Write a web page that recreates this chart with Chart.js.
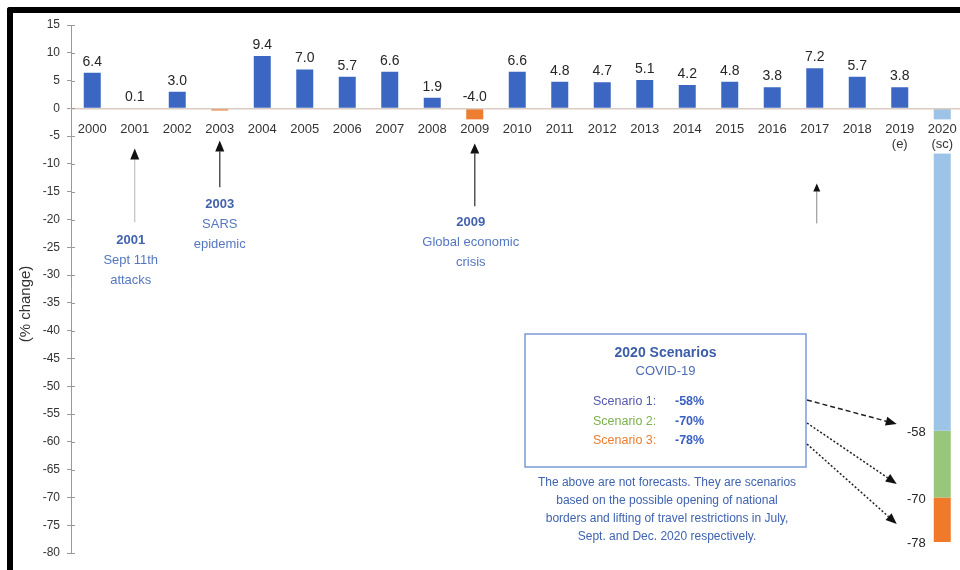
<!DOCTYPE html>
<html>
<head>
<meta charset="utf-8">
<title>International tourist arrivals</title>
<script src="https://cdn.jsdelivr.net/npm/chart.js@4.4.1/dist/chart.umd.min.js"></script>
<style>
  html, body { margin: 0; padding: 0; background: #fff; overflow: hidden; }
  #wrap { position: relative; width: 960px; height: 570px; overflow: hidden; }
  #plot { position: absolute; left: 0; top: 0; width: 970px; height: 570px; }
  #frame {
    position: absolute; left: 7px; top: 7px; width: 1000px; height: 600px;
    border-left: 6px solid #000; border-top: 6px solid #000;
    border-top-left-radius: 3px; pointer-events: none;
  }
</style>
</head>
<body>
<div id="wrap">
  <div id="plot"><canvas id="arrivalsChart"></canvas></div>
  <div id="frame"></div>
</div>
<script>
// annual % change, 2019 estimated, 2020 scenarios
const years = ['2000', '2001', '2002', '2003', '2004', '2005', '2006', '2007', '2008', '2009',
               '2010', '2011', '2012', '2013', '2014', '2015', '2016', '2017', '2018', '2019', '2020'];
const yearNotes = { '2019': '(e)', '2020': '(sc)' };
const growth = [6.4, 0.1, 3.0, -0.4, 9.4, 7.0, 5.7, 6.6, 1.9, -4.0,
                6.6, 4.8, 4.7, 5.1, 4.2, 4.8, 3.8, 7.2, 5.7, 3.8, null];
const crisisYears = ['2003', '2009'];
const unlabeledYears = ['2003'];
const scenarioYear = '2020';
const scenarioNames = ['Scenario 1', 'Scenario 2', 'Scenario 3'];
const scenarioValues = [-58, -70, -78];
const events = [
  { year: '2001', lines: ['Sept 11th', 'attacks'] },
  { year: '2003', lines: ['SARS', 'epidemic'] },
  { year: '2009', lines: ['Global economic', 'crisis'] },
  { year: '2017', lines: [] }
];
const noteLines = [
  'The above are not forecasts. They are scenarios',
  'based on the possible opening of national',
  'borders and lifting of travel restrictions in July,',
  'Sept. and Dec. 2020 respectively.'
];

const BLUE = '#3b67c2';
const ORANGE = '#ed7d31';
const scenarioColors = ['#9dc3e6', '#98c67a', '#f07a2a'];
const scenarioTextColors = ['#5458ae', '#7bb04a', '#ec7c30'];
const FONT = '"Liberation Sans", Arial, sans-serif';
const TICK_SIZE = 13;
const TICK_PAD = 13;

Chart.defaults.font.family = FONT;

const tickLabels = years.map(y => yearNotes[y] ? [y, yearNotes[y]] : y);
const scenarioIndex = years.indexOf(scenarioYear);
// year labels that sit on top of a bar get a white patch behind them
const maskedIdx = [years.indexOf('2009'), scenarioIndex];

// each scenario is a floating segment from the previous scenario down to its own value
const scenarioSets = scenarioValues.map((v, i) => ({
  label: scenarioNames[i],
  data: years.map((y, k) => k === scenarioIndex ? [i === 0 ? 0 : scenarioValues[i - 1], v] : null),
  backgroundColor: scenarioColors[i],
  barPercentage: 0.4,
  categoryPercentage: 1,
  grouped: false
}));

// arrows and callout text (y positions in axis units)
const callouts = {
  '2001': { tip: -7.2, tail: -20.5, text: -23.7, dx: -4, color: '#b5b5b5', width: 1, head: 11, half: 4.5 },
  '2003': { tip: -5.8, tail: -14.2, text: -17.3, dx: 0, color: '#555', width: 1.5, head: 11, half: 4.5 },
  '2009': { tip: -6.3, tail: -17.6, text: -20.5, dx: -4, color: '#555', width: 1.5, head: 10, half: 4.5 },
  '2017': { tip: -13.5, tail: -20.7, text: 0, dx: 2, color: '#888', width: 1, head: 8, half: 3.5 }
};

function arrow(ctx, x1, y1, x2, y2, o) {
  const ang = Math.atan2(y2 - y1, x2 - x1);
  const bx = x2 - o.head * Math.cos(ang), by = y2 - o.head * Math.sin(ang);
  ctx.save();
  ctx.strokeStyle = o.color;
  ctx.lineWidth = o.width;
  ctx.setLineDash(o.dash || []);
  ctx.beginPath();
  ctx.moveTo(x1, y1);
  ctx.lineTo(bx, by);
  ctx.stroke();
  ctx.setLineDash([]);
  ctx.fillStyle = '#111';
  ctx.beginPath();
  ctx.moveTo(x2, y2);
  ctx.lineTo(bx + o.half * Math.sin(ang), by - o.half * Math.cos(ang));
  ctx.lineTo(bx - o.half * Math.sin(ang), by + o.half * Math.cos(ang));
  ctx.closePath();
  ctx.fill();
  ctx.restore();
}

// white patches drawn after the bars but before the (z:1) tick labels
const labelMask = {
  id: 'labelMask',
  afterDatasetsDraw(chart) {
    const { ctx, scales: { x, y } } = chart;
    const top = y.getPixelForValue(0) + TICK_PAD - 2;
    ctx.save();
    ctx.font = TICK_SIZE + 'px ' + FONT;
    ctx.fillStyle = '#fff';
    maskedIdx.forEach(i => {
      const lines = [].concat(tickLabels[i]);
      const w = Math.max(...lines.map(l => ctx.measureText(l).width)) + 4;
      const h = lines.length * TICK_SIZE * 1.2 + 3;
      ctx.fillRect(x.getPixelForValue(i) - w / 2, top, w, h);
    });
    ctx.restore();
  }
};

const overlay = {
  id: 'overlay',
  afterDraw(chart) {
    const { ctx, scales: { x, y } } = chart;
    ctx.save();

    // inner half of the y tick marks
    ctx.strokeStyle = '#999';
    ctx.lineWidth = 1;
    y.ticks.forEach(t => {
      const py = Math.round(y.getPixelForValue(t.value)) + 0.5;
      ctx.beginPath();
      ctx.moveTo(x.left, py);
      ctx.lineTo(x.left + 4, py);
      ctx.stroke();
    });

    // y axis title
    ctx.save();
    ctx.translate(26, 304);
    ctx.rotate(-Math.PI / 2);
    ctx.font = '15px ' + FONT;
    ctx.fillStyle = '#333';
    ctx.textAlign = 'center';
    ctx.textBaseline = 'middle';
    ctx.fillText('(% change)', 0, 0);
    ctx.restore();

    // value labels above the bars
    ctx.font = '14px ' + FONT;
    ctx.fillStyle = '#262626';
    ctx.textAlign = 'center';
    ctx.textBaseline = 'bottom';
    growth.forEach((v, i) => {
      if (v === null || unlabeledYears.includes(years[i])) return;
      ctx.fillText(v.toFixed(1), x.getPixelForValue(i), y.getPixelForValue(Math.max(v, 0)) - 4);
    });

    // scenario values beside the 2020 bar
    const bar = chart.getDatasetMeta(1).data[scenarioIndex];
    ctx.font = '13px ' + FONT;
    ctx.textAlign = 'right';
    ctx.textBaseline = 'middle';
    scenarioValues.forEach(v => {
      ctx.fillText(String(v), bar.x - bar.width / 2 - 8, y.getPixelForValue(v) + 2);
    });

    // event arrows and captions
    events.forEach(ev => {
      const c = callouts[ev.year];
      const cx = x.getPixelForValue(years.indexOf(ev.year));
      const px = cx + (ev.lines.length ? 0 : c.dx);
      arrow(ctx, px, y.getPixelForValue(c.tail), px, y.getPixelForValue(c.tip), c);
      if (!ev.lines.length) return;
      const tx = cx + c.dx;
      let ty = y.getPixelForValue(c.text);
      ctx.textAlign = 'center';
      ctx.textBaseline = 'middle';
      ctx.font = 'bold 13px ' + FONT;
      ctx.fillStyle = '#4262ad';
      ctx.fillText(ev.year, tx, ty);
      ctx.font = '13px ' + FONT;
      ctx.fillStyle = '#5577c0';
      ev.lines.forEach(l => { ty += 20; ctx.fillText(l, tx, ty); });
    });

    // scenario panel
    const box = { left: 525, top: 334, right: 806, bottom: 467 };
    ctx.strokeStyle = '#7b9bd6';
    ctx.lineWidth = 1.5;
    ctx.strokeRect(box.left, box.top, box.right - box.left, box.bottom - box.top);
    const mid = (box.left + box.right) / 2;
    ctx.textAlign = 'center';
    ctx.font = 'bold 14px ' + FONT;
    ctx.fillStyle = '#3d5da8';
    ctx.fillText('2020 Scenarios', mid, 353);
    ctx.font = '13px ' + FONT;
    ctx.fillStyle = '#4d6cb5';
    ctx.fillText('COVID-19', mid, 371);
    scenarioNames.forEach((name, i) => {
      const ry = 402 + i * 19.5;
      ctx.textAlign = 'left';
      ctx.font = '12.5px ' + FONT;
      ctx.fillStyle = scenarioTextColors[i];
      ctx.fillText(name + ':', 593, ry);
      ctx.font = 'bold 12.5px ' + FONT;
      ctx.fillStyle = '#3a5fc0';
      ctx.fillText(scenarioValues[i] + '%', 675, ry);
    });

    // note under the panel
    ctx.textAlign = 'center';
    ctx.font = '12px ' + FONT;
    ctx.fillStyle = '#3f63b0';
    noteLines.forEach((l, i) => ctx.fillText(l, 667, 483 + i * 18));

    // pointers from the panel to the stacked bar
    const tipX = bar.x - bar.width / 2 - 37;
    arrow(ctx, 807, 400, tipX, 424, { color: '#222', width: 1.5, dash: [5, 3], head: 11, half: 4.5 });
    arrow(ctx, 807, 423, tipX, 484, { color: '#222', width: 1.5, dash: [2, 2], head: 11, half: 4.5 });
    arrow(ctx, 807, 444, tipX, 524, { color: '#222', width: 1.5, dash: [2, 2], head: 11, half: 4.5 });

    ctx.restore();
  }
};

const ctx = document.getElementById('arrivalsChart').getContext('2d');
new Chart(ctx, {
  type: 'bar',
  data: {
    labels: tickLabels,
    datasets: [{
      label: 'International tourist arrivals',
      data: growth,
      backgroundColor: years.map(y => crisisYears.includes(y) ? ORANGE : BLUE),
      barPercentage: 0.4,
      categoryPercentage: 1,
      grouped: false
    }, ...scenarioSets]
  },
  options: {
    responsive: true,
    maintainAspectRatio: false,
    animation: false,
    layout: { padding: { top: 25, right: 6.5, bottom: 17, left: 0 } },
    plugins: {
      legend: { display: false },
      tooltip: { enabled: false }
    },
    scales: {
      x: {
        position: { y: 0 },
        offset: true,
        grid: { display: false, drawTicks: false },
        border: { display: true, color: '#d9ccc3', width: 1.5, z: 1 },
        ticks: {
          z: 1,
          autoSkip: false,
          maxRotation: 0,
          padding: TICK_PAD,
          color: '#333',
          font: { size: TICK_SIZE }
        }
      },
      y: {
        min: -80,
        max: 15,
        afterFit: s => { s.width = 71; },
        grid: { drawOnChartArea: false, tickLength: 4, color: '#999' },
        border: { color: '#999', width: 1 },
        ticks: { stepSize: 5, padding: 7, color: '#333', font: { size: 12 } }
      }
    }
  },
  plugins: [labelMask, overlay]
});
</script>
</body>
</html>
